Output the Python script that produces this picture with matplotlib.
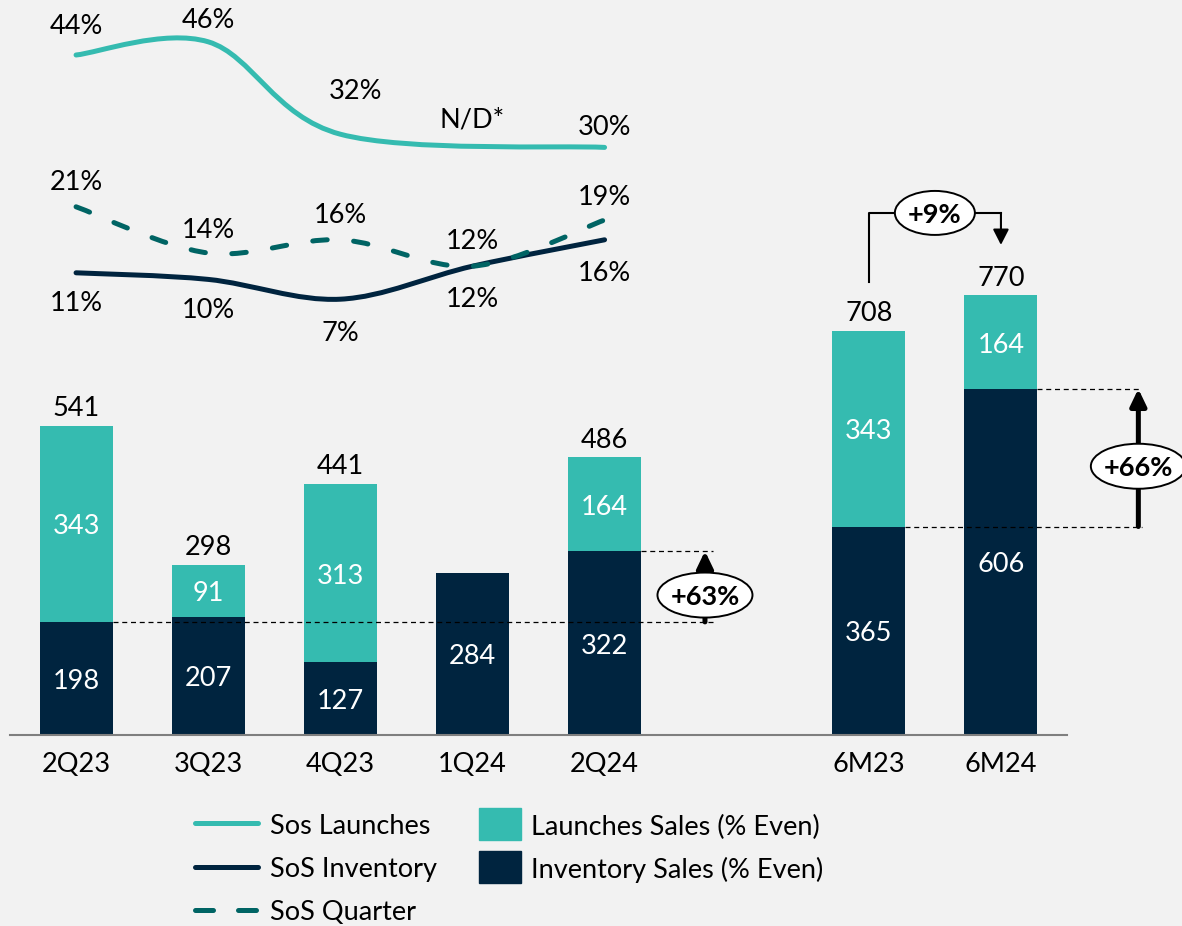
import numpy as np
import matplotlib.pyplot as plt
from matplotlib.path import Path
from matplotlib.patches import PathPatch, Rectangle, Ellipse
from matplotlib.lines import Line2D
from matplotlib.transforms import ScaledTranslation

plt.rcParams['font.family'] = ['Lato', 'DejaVu Sans']

# periods on the x axis
categories = ["2Q23", "3Q23", "4Q23", "1Q24", "2Q24", "6M23", "6M24"]
inventory_sales = [198, 207, 127, 284, 322, 365, 606]
launches_sales = [343, 91, 313, 0, 164, 343, 164]
totals = [541, 298, 441, None, 486, 708, 770]

# share of sales lines (quarters only), None = not available
sos_launches = [44, 46, 32, None, 30]
sos_inventory = [11, 10, 7, 12, 16]
sos_quarter = [21, 14, 16, 12, 19]

TEAL = '#35BBB0'
NAVY = '#00243F'
DTEAL = '#006464'
BG = '#F2F2F2'
FS = 19.5

W, H = 1182, 926
fig = plt.figure(figsize=(W / 100, H / 100), dpi=100, facecolor=BG)
ax = fig.add_axes([10 / W, 1 - 735 / H, 1057 / W, 735 / H])
ax.patch.set_visible(False)

xpos = np.r_[np.arange(5), np.arange(2) + 6]
bw = 0.553

ax.set_xlim(-0.5, 7.5)
ax.set_ylim(0, 735 / 0.5712)

ax.bar(xpos, inventory_sales, bw, color=NAVY, zorder=2)
ax.bar(xpos, launches_sales, bw, bottom=inventory_sales, color=TEAL, zorder=2)

for x, inv, lau, tot in zip(xpos, inventory_sales, launches_sales, totals):
    ax.annotate(str(inv), (x, inv / 2), xytext=(0, -3), textcoords='offset pixels',
                ha='center', va='center', color='white', fontsize=FS, zorder=3)
    if lau:
        ax.annotate(str(lau), (x, inv + lau / 2), xytext=(0, -3), textcoords='offset pixels',
                    ha='center', va='center', color='white', fontsize=FS, zorder=3)
    if tot is not None:
        ax.annotate(str(tot), (x, inv + lau), xytext=(0, 17), textcoords='offset pixels',
                    ha='center', va='center', fontsize=FS)

ax.set_xticks(xpos, categories)
ax.tick_params(axis='x', length=0, pad=12, labelsize=FS)
ax.set_yticks([])
for s in ['top', 'left', 'right']:
    ax.spines[s].set_visible(False)
ax.spines['bottom'].set_color('#7F7F7F')
ax.spines['bottom'].set_linewidth(1.5)

dash = dict(color='black', lw=0.9, linestyle=(0, (4, 3)), clip_on=False, zorder=4)


def ellipse_label(x, y, text, w, h):
    # ellipse sized in pixels, centred on a data point
    tr = fig.dpi_scale_trans + ScaledTranslation(x, y, ax.transData)
    ax.add_patch(Ellipse((0, 0), w / 100, h / 100, transform=tr, fc='white', ec='black',
                         lw=1.4, zorder=6, clip_on=False))
    ax.annotate(text, (x, y), xytext=(0, -2), textcoords='offset pixels', ha='center',
                va='center', fontsize=FS, fontweight='bold', zorder=7, annotation_clip=False)


def growth_arrow(i0, i1, xa, xend):
    a, b = inventory_sales[i0], inventory_sales[i1]
    ax.plot([xpos[i0] + bw / 2, xend], [a, a], **dash)
    ax.plot([xpos[i1] + bw / 2, xend], [b, b], **dash)
    ax.annotate('', xy=(xa, b), xytext=(xa, a),
                arrowprops=dict(arrowstyle='-|>,head_length=0.5,head_width=0.24',
                                color='black', lw=3.6, shrinkA=0, shrinkB=0,
                                mutation_scale=20),
                annotation_clip=False, zorder=5)
    ellipse_label(xa, (a + b) / 2 - 15, f"+{round((b / a - 1) * 100)}%", 95, 45)


growth_arrow(0, 4, 4.76, 4.82)
growth_arrow(5, 6, 8.04, 8.07)

# bracket between the two half-year totals
t0, t1 = totals[5], totals[6]
ytop = t1 + 144
ax.plot([6, 6, 7], [t0 + 85, ytop, ytop], color='black', lw=1.5, zorder=4)
ax.annotate('', xy=(7, t1 + 88), xytext=(7, ytop),
            arrowprops=dict(arrowstyle='-|>,head_length=0.47,head_width=0.24',
                            color='black', lw=1.5, shrinkA=0, shrinkB=0, mutation_scale=20))
ellipse_label(6.5, ytop, f"+{round((t1 / t0 - 1) * 100)}%", 80, 44)

# lines on their own scale
lx = ax.twinx()
lx.set_ylim(44 - (735 - 55) / 6.6, 44 + 55 / 6.6)
lx.axis('off')


def smooth_path(xs, ys):
    pts = np.column_stack([xs, ys]).astype(float)
    ext = np.vstack([pts[0], pts, pts[-1]])
    verts = [pts[0]]
    codes = [Path.MOVETO]
    for i in range(len(pts) - 1):
        p0, p1, p2, p3 = ext[i], ext[i + 1], ext[i + 2], ext[i + 3]
        verts += [p1 + (p2 - p0) / 6, p2 - (p3 - p1) / 6, p2]
        codes += [Path.CURVE4] * 3
    return Path(verts, codes)


def draw_line(vals, color, ls='-', z=3):
    xs = [x for x, v in zip(xpos, vals) if v is not None]
    ys = [v for v in vals if v is not None]
    p = PathPatch(smooth_path(xs, ys), fill=False, ec=color, lw=3.6, linestyle=ls,
                  capstyle='round', joinstyle='round', zorder=z)
    lx.add_patch(p)


draw_line(sos_launches, TEAL)
draw_line(sos_inventory, NAVY)
draw_line(sos_quarter, DTEAL, ls=(0, (2.9, 5.3)), z=4)


def line_labels(vals, offsets):
    for x, v, (dx, dy) in zip(xpos, vals, offsets):
        if v is None:
            continue
        lx.annotate(f"{v}%", (x, v), xytext=(dx, dy - 3), textcoords='offset pixels',
                    ha='center', va='center', fontsize=FS)


line_labels(sos_launches, [(0, 31), (0, 24), (15, 46), (0, 0), (0, 23)])
line_labels(sos_quarter, [(0, 27), (0, 25), (0, 27), (0, 28), (0, 25)])
line_labels(sos_inventory, [(0, -28), (0, -28), (0, -31), (0, -30), (0, -31)])
lx.annotate("N/D*", (xpos[3], sos_launches[4]), xytext=(0, 27), textcoords='offset pixels',
            ha='center', va='center', fontsize=FS)


# legend
def fx(px):
    return px / W


def fy(py):
    return 1 - py / H


for y, c, ls, lab in [(823, TEAL, '-', 'Sos Launches'),
                      (867, NAVY, '-', 'SoS Inventory'),
                      (910, DTEAL, (0, (3.6, 5.0)), 'SoS Quarter')]:
    fig.add_artist(Line2D([fx(195), fx(258)], [fy(y), fy(y)], color=c, lw=3.6, linestyle=ls,
                          solid_capstyle='round', dash_capstyle='round', transform=fig.transFigure))
    fig.text(fx(270), fy(y + 3), lab, ha='left', va='center', fontsize=FS)

for y, c, lab in [(824, TEAL, 'Launches Sales (% Even)'),
                  (867, NAVY, 'Inventory Sales (% Even)')]:
    fig.add_artist(Rectangle((fx(479), fy(y + 16)), 42 / W, 32 / H, color=c,
                             transform=fig.transFigure))
    fig.text(fx(531), fy(y + 3), lab, ha='left', va='center', fontsize=FS)

fig.savefig('out.png', dpi=100, facecolor=BG)
